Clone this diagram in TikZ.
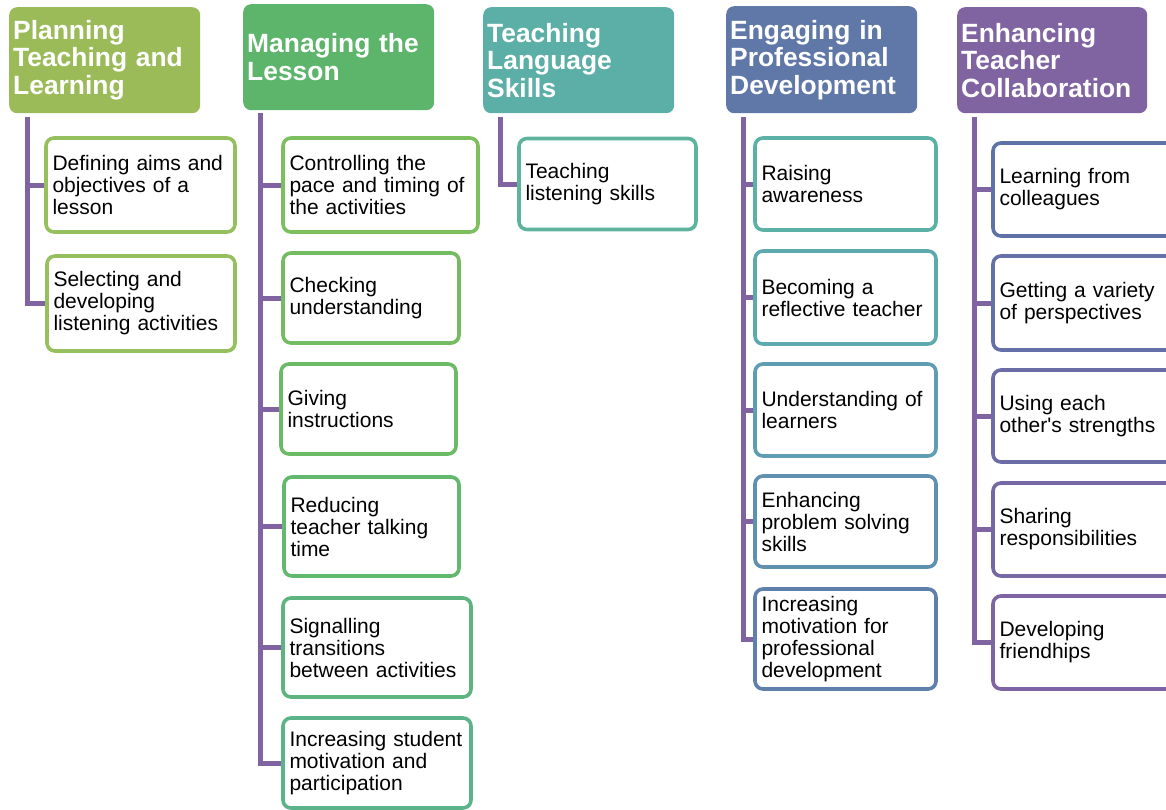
\documentclass[tikz,border=0pt]{standalone}
\usepackage{fontspec}
\setmainfont{Liberation Sans}
\usetikzlibrary{backgrounds}

% header fills
\definecolor{hplan}{HTML}{9BBB59}
\definecolor{hmanage}{HTML}{5CB56B}
\definecolor{hlang}{HTML}{5BAFA6}
\definecolor{hprof}{HTML}{5F78A8}
\definecolor{hcollab}{HTML}{8064A2}
% connector colour
\definecolor{trunkc}{HTML}{8064A2}
% item borders
\definecolor{bp}{HTML}{96BF5E}
\definecolor{bma}{HTML}{7DBE5F}
\definecolor{bmb}{HTML}{74BC62}
\definecolor{bmc}{HTML}{6BBA66}
\definecolor{bmd}{HTML}{62B86D}
\definecolor{bme}{HTML}{5DB47F}
\definecolor{bmf}{HTML}{5BB38A}
\definecolor{bt}{HTML}{5DB39C}
\definecolor{bea}{HTML}{5BB1A6}
\definecolor{beb}{HTML}{5DAAAE}
\definecolor{bec}{HTML}{5F9EB2}
\definecolor{bed}{HTML}{6090B0}
\definecolor{bee}{HTML}{6080AC}
\definecolor{bfa}{HTML}{5E72A8}
\definecolor{bfb}{HTML}{6570A8}
\definecolor{bfc}{HTML}{6C6CA7}
\definecolor{bfd}{HTML}{7568A5}
\definecolor{bfe}{HTML}{7E64A2}

\tikzset{
  head/.style={fill=#1, rounded corners=8pt, text=white,
    font=\bfseries\fontsize{26.4}{27.5}\selectfont, align=left,
    inner xsep=4pt, inner ysep=0pt, text width=183pt,
    minimum height=106pt, anchor=north west},
  leaf/.style={draw=#1, line width=3.6pt, rounded corners=8pt, fill=white,
    font=\fontsize{21}{22}\selectfont, align=left,
    inner xsep=6.5pt, inner ysep=0pt},
  trunk/.style={draw=trunkc, line width=5pt},
}

\begin{document}
\begin{tikzpicture}[x=1pt,y=-1pt]
\useasboundingbox (0,0) rectangle (1166,809);
\clip (0,0) rectangle (1166,809);

% column headers
\node[head=hplan]   (H1) at (9,7)   {Planning\\Teaching and\\Learning};
\node[head=hmanage] (H2) at (243,4) {Managing the\\Lesson};
\node[head=hlang]   (H3) at (483,7) {Teaching\\Language\\Skills};
\node[head=hprof, minimum height=107pt] (H4) at (726,6) {Engaging in\\Professional\\Development};
\node[head=hcollab, text width=182pt] (H5) at (957,7) {Enhancing\\Teacher\\Collaboration};

% Planning Teaching and Learning
\node[leaf=bp, text width=176pt, minimum height=94pt] (P1) at (140.5,185) {Defining aims and\\objectives of a\\lesson};
\node[leaf=bp, text width=175pt, minimum height=95pt] (P2) at (141,303.5) {Selecting and\\developing\\listening activities};

% Managing the Lesson
\node[leaf=bma, text width=182pt, minimum height=94pt] (M1) at (380.5,185) {Controlling the\\pace and timing of\\the activities};
\node[leaf=bmb, text width=163pt, minimum height=90pt] (M2) at (371,298) {Checking\\understanding};
\node[leaf=bmc, text width=162pt, minimum height=90pt] (M3) at (368.5,409) {Giving\\instructions};
\node[leaf=bmd, text width=162pt, minimum height=99pt] (M4) at (371.5,526.5) {Reducing\\teacher talking\\time};
\node[leaf=bme, text width=175pt, minimum height=99pt] (M5) at (377,647.5) {Signalling\\transitions\\between activities};
\node[leaf=bmf, text width=175pt, minimum height=90pt] (M6) at (377,763) {Increasing student\\motivation and\\participation};

% Teaching Language Skills
\node[leaf=bt, text width=164pt, minimum height=91pt] (T1) at (607.5,184) {Teaching\\listening skills};

% Engaging in Professional Development
\node[leaf=bea, text width=168pt, minimum height=92pt]  (E1) at (845.5,184)   {Raising\\awareness};
\node[leaf=beb, text width=168pt, minimum height=93pt]  (E2) at (845.5,297.5) {Becoming a\\reflective teacher};
\node[leaf=bec, text width=168pt, minimum height=92pt]  (E3) at (845.5,410)   {Understanding of\\learners};
\node[leaf=bed, text width=168pt, minimum height=91pt]  (E4) at (845.5,521.5) {Enhancing\\problem solving\\skills};
\node[leaf=bee, text width=168pt, minimum height=100pt] (E5) at (845.5,639)   {Increasing\\motivation for\\professional\\development};

% Enhancing Teacher Collaboration
\node[leaf=bfa, text width=177pt, minimum height=93pt] (F1) at (1088,189.5) {Learning from\\colleagues};
\node[leaf=bfb, text width=177pt, minimum height=94pt] (F2) at (1088,303)   {Getting a variety\\of perspectives};
\node[leaf=bfc, text width=177pt, minimum height=92pt] (F3) at (1088,416)   {Using each\\other\textquotesingle s strengths};
\node[leaf=bfd, text width=177pt, minimum height=93pt] (F4) at (1088,529.5) {Sharing\\responsibilities};
\node[leaf=bfe, text width=177pt, minimum height=93pt] (F5) at (1088,642.5) {Developing\\friendhips};

% trunk lines and branches, behind the boxes
\coordinate (t1) at ([xshift=18.5pt,yshift=-4pt]H1.south west);
\coordinate (t2) at ([xshift=17pt,yshift=-3pt]H2.south west);
\coordinate (t3) at ([xshift=17pt,yshift=-4pt]H3.south west);
\coordinate (t4) at ([xshift=17.5pt,yshift=-4pt]H4.south west);
\coordinate (t5) at ([xshift=17pt,yshift=-4pt]H5.south west);

\begin{scope}[on background layer]
  \draw[trunk] (t1) |- (P2.west);
  \draw[trunk] (t1 |- P1.west) -- (P1.west);

  \draw[trunk] (t2) |- (M6.west);
  \foreach \n in {M1,M2,M3,M4,M5}
    \draw[trunk] (t2 |- \n.west) -- (\n.west);

  \draw[trunk] (t3) |- (T1.west);

  \draw[trunk] (t4) |- (E5.west);
  \foreach \n in {E1,E2,E3,E4}
    \draw[trunk] (t4 |- \n.west) -- (\n.west);

  \draw[trunk] (t5) |- (F5.west);
  \foreach \n in {F1,F2,F3,F4}
    \draw[trunk] (t5 |- \n.west) -- (\n.west);
\end{scope}
\end{tikzpicture}
\end{document}
